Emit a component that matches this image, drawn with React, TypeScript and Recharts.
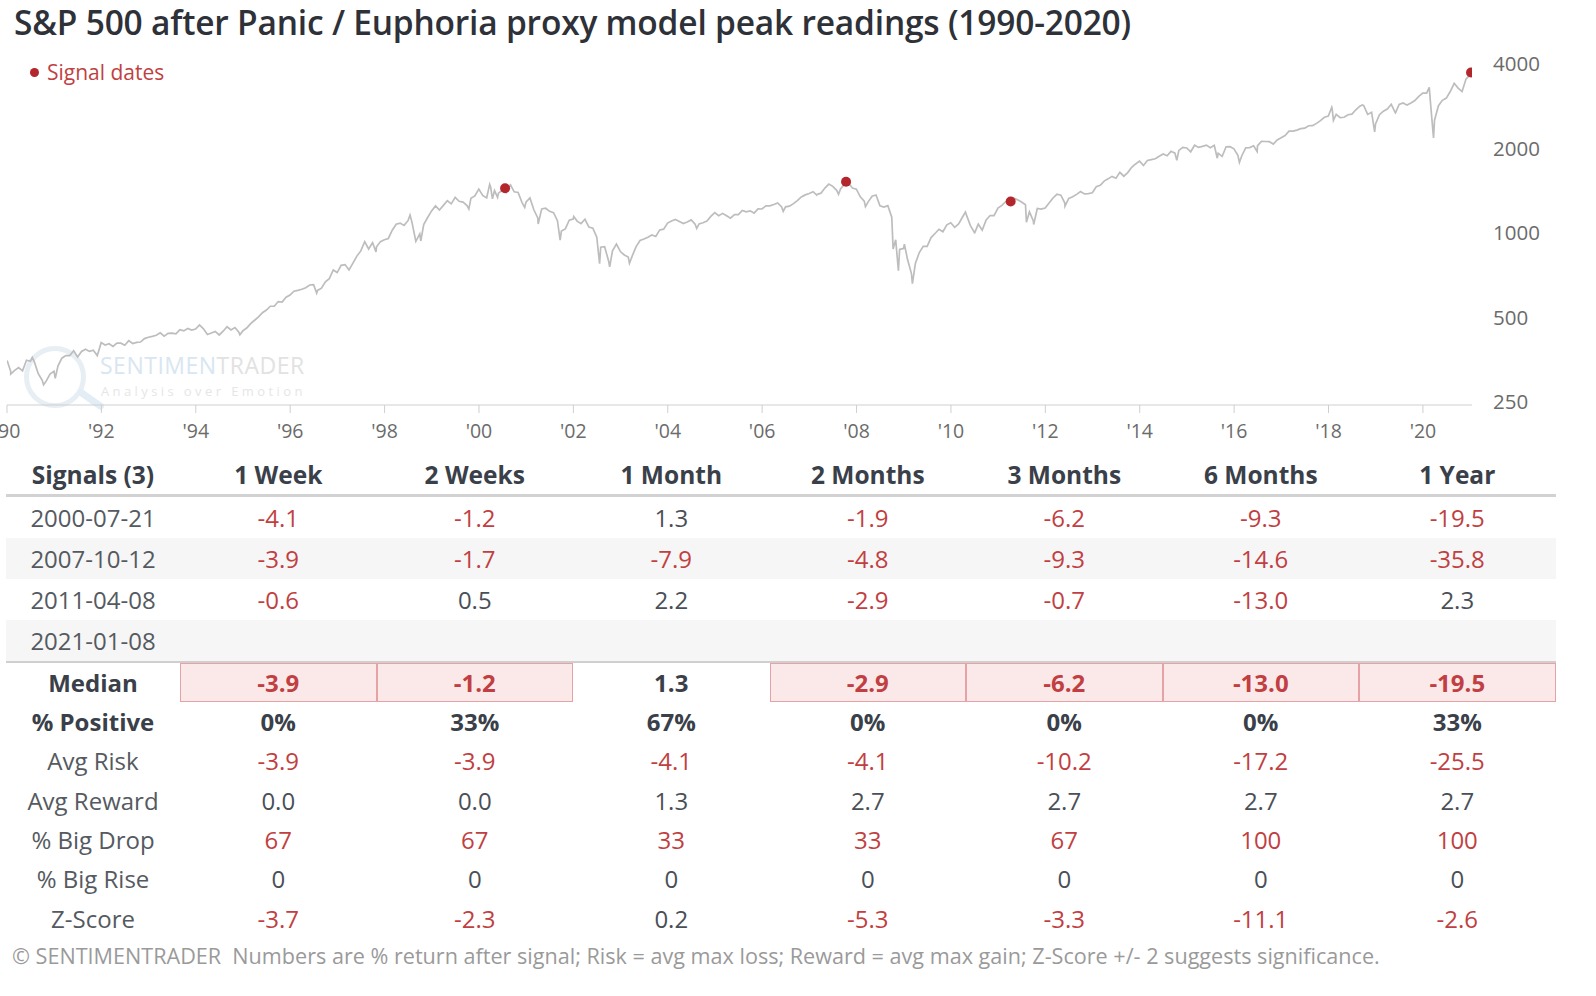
import * as React from "react";
import { ComposedChart, Line, Scatter, XAxis, YAxis, Legend } from "recharts";

// S&P 500 month-end closes, Jan 1990 -> Dec 2020 (12 per year)
const sp500Monthly: number[] = [
  329, 332, 340, 331, 361, 358, 356, 323, 306, 304, 322, 330,
  344, 367, 375, 375, 390, 371, 388, 395, 388, 392, 375, 417,
  409, 413, 404, 415, 415, 408, 424, 414, 418, 419, 431, 436,
  439, 443, 452, 440, 450, 451, 448, 464, 459, 468, 462, 466,
  482, 467, 446, 451, 457, 444, 458, 475, 463, 472, 454, 459,
  470, 487, 501, 515, 533, 545, 562, 562, 584, 582, 605, 616,
  636, 640, 646, 654, 669, 671, 640, 652, 687, 705, 757, 741,
  786, 791, 757, 801, 848, 885, 954, 899, 947, 915, 955, 970,
  980, 1049, 1102, 1112, 1091, 1134, 1121, 957, 1017, 1099, 1164, 1229,
  1280, 1238, 1286, 1335, 1302, 1373, 1329, 1320, 1283, 1363, 1389, 1469,
  1394, 1366, 1499, 1452, 1421, 1455, 1431, 1518, 1437, 1429, 1315, 1320,
  1366, 1240, 1160, 1249, 1256, 1224, 1211, 1134, 1041, 1060, 1139, 1148,
  1130, 1107, 1147, 1076, 1067, 990, 912, 916, 815, 886, 936, 880,
  856, 841, 848, 917, 964, 975, 990, 1008, 996, 1051, 1058, 1112,
  1131, 1145, 1126, 1107, 1121, 1141, 1102, 1104, 1115, 1130, 1174, 1212,
  1181, 1204, 1181, 1157, 1192, 1191, 1234, 1220, 1229, 1207, 1249, 1248,
  1280, 1281, 1295, 1311, 1270, 1270, 1277, 1304, 1336, 1378, 1401, 1418,
  1438, 1407, 1421, 1482, 1531, 1503, 1455, 1474, 1527, 1549, 1481, 1468,
  1379, 1331, 1323, 1386, 1400, 1280, 1267, 1283, 1166, 969, 896, 903,
  826, 735, 798, 873, 919, 919, 987, 1021, 1057, 1036, 1096, 1115,
  1074, 1104, 1169, 1187, 1089, 1031, 1102, 1049, 1141, 1183, 1181, 1258,
  1286, 1327, 1326, 1364, 1345, 1321, 1292, 1219, 1131, 1253, 1247, 1258,
  1312, 1366, 1408, 1398, 1310, 1362, 1379, 1407, 1441, 1412, 1416, 1426,
  1498, 1515, 1569, 1598, 1631, 1606, 1686, 1633, 1682, 1757, 1806, 1848,
  1783, 1859, 1872, 1884, 1924, 1960, 1931, 2003, 1972, 2018, 2068, 2059,
  1995, 2105, 2068, 2086, 2107, 2063, 2104, 1972, 1920, 2079, 2080, 2044,
  1940, 1932, 2060, 2065, 2097, 2099, 2174, 2171, 2168, 2126, 2199, 2239,
  2279, 2364, 2363, 2384, 2412, 2423, 2470, 2472, 2519, 2575, 2648, 2674,
  2824, 2714, 2641, 2648, 2705, 2718, 2816, 2902, 2914, 2712, 2760, 2507,
  2704, 2784, 2834, 2946, 2752, 2942, 2980, 2926, 2977, 3038, 3141, 3231,
  3226, 2954, 2585, 2912, 3044, 3100, 3271, 3500, 3363, 3270, 3622, 3756,
];

// intra-month swing highs / lows that the month-end closes miss
const sp500Swings: [string, number][] = [
  ["1990-01-02", 360], ["1990-01-30", 322], ["1990-07-16", 369], ["1990-10-11", 295],
  ["1991-01-09", 311], ["1994-12-08", 445], ["1996-07-24", 626], ["1997-10-27", 877],
  ["1998-07-17", 1187], ["1998-10-08", 960], ["1999-10-15", 1247], ["2000-03-24", 1527],
  ["2000-04-14", 1357], ["2000-05-24", 1373], ["2000-07-21", 1480], ["2000-09-01", 1521],
  ["2000-12-20", 1264], ["2001-04-04", 1103], ["2001-09-21", 966], ["2002-01-04", 1173],
  ["2002-07-23", 797], ["2002-10-09", 777], ["2003-03-11", 800], ["2004-08-12", 1064],
  ["2006-06-13", 1224], ["2007-02-27", 1399], ["2007-08-15", 1407], ["2007-10-09", 1565],
  ["2008-03-10", 1273], ["2008-10-10", 899], ["2008-11-20", 752], ["2009-01-06", 935],
  ["2009-03-09", 677], ["2010-04-23", 1217], ["2010-07-02", 1022], ["2011-04-29", 1364],
  ["2011-08-08", 1119], ["2011-10-03", 1099], ["2012-06-01", 1278], ["2014-10-15", 1862],
  ["2015-08-24", 1893], ["2016-02-11", 1829], ["2016-06-27", 2001], ["2018-01-26", 2873],
  ["2018-02-08", 2581], ["2018-09-20", 2931], ["2018-12-24", 2351], ["2019-06-03", 2744],
  ["2020-02-19", 3386], ["2020-03-23", 2237], ["2021-01-08", 3825],
];

const signalDates = ["2000-07-21", "2007-10-12", "2011-04-08", "2021-01-08"];
const signalCloses = [1480, 1561, 1328, 3825];

const yTicks = [250, 500, 1000, 2000, 4000];
const xTickYears = [1990, 1992, 1994, 1996, 1998, 2000, 2002, 2004, 2006, 2008, 2010, 2012, 2014, 2016, 2018, 2020];

// table
const horizons = ["1 Week", "2 Weeks", "1 Month", "2 Months", "3 Months", "6 Months", "1 Year"];
const signalReturns: (number[] | null)[] = [
  [-4.1, -1.2, 1.3, -1.9, -6.2, -9.3, -19.5],
  [-3.9, -1.7, -7.9, -4.8, -9.3, -14.6, -35.8],
  [-0.6, 0.5, 2.2, -2.9, -0.7, -13.0, 2.3],
  null,
];
const medianReturns = [-3.9, -1.2, 1.3, -2.9, -6.2, -13.0, -19.5];
const pctPositive = [0, 33, 67, 0, 0, 0, 33];
const avgRisk = [-3.9, -3.9, -4.1, -4.1, -10.2, -17.2, -25.5];
const avgReward = [0.0, 0.0, 1.3, 2.7, 2.7, 2.7, 2.7];
const pctBigDrop = [67, 67, 33, 33, 67, 100, 100];
const pctBigRise = [0, 0, 0, 0, 0, 0, 0];
const zScores = [-3.7, -2.3, 0.2, -5.3, -3.3, -11.1, -2.6];

const FONT = '"Open Sans", "Noto Sans", sans-serif';
const RED = "#c13f42";
const DARK = "#4a4f57";
const HEAD = "#3a4049";

function toYear(d: string) {
  const [y, m, day] = d.split("-").map(Number);
  const start = Date.UTC(y, 0, 1);
  const cur = Date.UTC(y, m - 1, day);
  return y + (cur - start) / (365.25 * 86400000);
}

function buildSeries() {
  const rows: { t: number; close: number }[] = sp500Monthly.map((v, i) => ({
    t: 1990 + Math.floor(i / 12) + ((i % 12) + 1) / 12 - 0.004,
    close: v,
  }));
  for (const [d, v] of sp500Swings) rows.push({ t: toYear(d), close: v });
  rows.sort((a, b) => a.t - b.t);
  return rows;
}

const seriesData = buildSeries();
const signalData = signalDates.map((d, i) => ({ t: toYear(d), close: signalCloses[i] }));

const COL0 = 174;
const COLW = 196.5;

function Cell({ children, width, color, bold, box }: any) {
  return (
    <div
      style={{
        width,
        height: "100%",
        position: "relative",
        display: "flex",
        alignItems: "center",
        justifyContent: "center",
        color,
        fontWeight: bold ? 700 : 400,
        boxSizing: "border-box",
      }}
    >
      {box && (
        <div
          style={{
            position: "absolute",
            inset: 0,
            background: "#fbe9ea",
            border: "1px solid #e5a3a6",
          }}
        />
      )}
      <span style={{ position: "relative" }}>{children}</span>
    </div>
  );
}

function Row({ label, values, height, bg, bold, labelColor, borderTop, boxNeg }: any) {
  return (
    <div
      style={{
        display: "flex",
        height,
        background: bg,
        borderTop,
        boxSizing: "border-box",
      }}
    >
      <Cell width={COL0} color={labelColor} bold={bold}>
        {label}
      </Cell>
      {values.map((v: any, i: number) => (
        <Cell
          key={i}
          width={COLW}
          color={v.red ? RED : bold ? HEAD : DARK}
          bold={bold}
          box={boxNeg && v.red}
        >
          {v.text}
        </Cell>
      ))}
    </div>
  );
}

const fmt1 = (arr: number[]) => arr.map((v) => ({ text: v.toFixed(1), red: v < 0 }));

function SignalLegend() {
  return (
    <div style={{ display: "flex", alignItems: "center", color: RED, fontSize: 21, fontFamily: FONT, whiteSpace: "nowrap" }}>
      <span style={{ display: "inline-block", width: 9, height: 9, borderRadius: 5, background: "#b3262b", marginRight: 8 }} />
      Signal dates
    </div>
  );
}

export default function App() {
  return (
    <div style={{ position: "relative", width: 1596, height: 996, fontFamily: FONT, background: "#fff", overflow: "hidden" }}>
      <style>{"body{margin:0}"}</style>
      <div style={{ position: "absolute", left: 14, top: 0, fontSize: 33.5, lineHeight: "44px", fontWeight: 600, color: "#2e3138", letterSpacing: -0.2, whiteSpace: "nowrap" }}>
        S&amp;P 500 after Panic / Euphoria proxy model peak readings (1990-2020)
      </div>

      {/* watermark */}
      <div style={{ position: "absolute", left: 24, top: 346, width: 62, height: 62, borderRadius: 31, border: "5px solid #e7eef4", boxSizing: "border-box" }} />
      <div style={{ position: "absolute", left: 76, top: 396, width: 30, height: 7, borderRadius: 3, background: "#e3edf5", transform: "rotate(35deg)" }} />
      <div style={{ position: "absolute", left: 100, top: 350, fontSize: 23, letterSpacing: 0.5, lineHeight: "30px", whiteSpace: "nowrap" }}>
        <span style={{ color: "#d8e6f1" }}>SENTIMEN</span>
        <span style={{ color: "#e2e2e2" }}>TRADER</span>
      </div>
      <div style={{ position: "absolute", left: 101, top: 382, fontSize: 13, letterSpacing: 3.4, color: "#e6e6e6", lineHeight: "18px", whiteSpace: "nowrap" }}>
        Analysis over Emotion
      </div>

      <div style={{ position: "absolute", left: 0, top: 0 }}>
        <ComposedChart width={1596} height={450} data={seriesData} margin={{ top: 67, right: 0, left: 7, bottom: 0 }}>
          <XAxis
            dataKey="t"
            type="number"
            domain={[1990, 2021.04]}
            allowDataOverflow
            ticks={xTickYears}
            interval={0}
            tickFormatter={(v: number) => "'" + String(v).slice(2)}
            height={45}
            tickSize={8}
            tickMargin={11}
            stroke="#cfcfcf"
            tick={{ fontSize: 19.5, fill: "#6b6b6b", fontFamily: FONT }}
          />
          <YAxis
            dataKey="close"
            type="number"
            scale="log"
            orientation="right"
            domain={[250, 4000]}
            allowDataOverflow
            ticks={yTicks}
            axisLine={false}
            tickLine={false}
            tickMargin={15}
            width={124}
            tick={{ fontSize: 20.5, fill: "#6b6b6b", fontFamily: FONT, textAnchor: "start", dy: -3 }}
          />
          <Legend
            verticalAlign="middle"
            align="center"
            content={() => <SignalLegend />}
            wrapperStyle={{ position: "absolute", left: 30, top: 58, width: "auto", height: "auto" }}
          />
          <Line
            dataKey="close"
            type="linear"
            stroke="#bdbdbd"
            strokeWidth={1.7}
            dot={false}
            isAnimationActive={false}
          />
          <Scatter
            data={signalData}
            dataKey="close"
            isAnimationActive={false}
            shape={(p: any) => <circle cx={p.cx} cy={p.cy} r={5} fill="#b3262b" />}
          />
        </ComposedChart>
      </div>

      {/* statistics table */}
      <div style={{ position: "absolute", left: 6, top: 455, width: COL0 + COLW * 7, fontSize: 24 }}>
        <div style={{ display: "flex", height: 42, borderBottom: "3px solid #d2d2d2", boxSizing: "border-box", fontSize: 24.5 }}>
          <Cell width={COL0} color={HEAD} bold>Signals (3)</Cell>
          {horizons.map((h) => (
            <Cell key={h} width={COLW} color={HEAD} bold>{h}</Cell>
          ))}
        </div>
        {signalDates.map((d, r) => (
          <Row
            key={d}
            label={d}
            labelColor="#555a61"
            height={41}
            bg={r % 2 === 1 ? "#f6f6f6" : "#fff"}
            values={signalReturns[r] ? fmt1(signalReturns[r] as number[]) : horizons.map(() => ({ text: "", red: false }))}
          />
        ))}
        <Row label="Median" labelColor={HEAD} bold boxNeg height={41} borderTop="2px solid #cfcfcf" values={fmt1(medianReturns)} />
        <Row label="% Positive" labelColor={HEAD} bold height={39.3} values={pctPositive.map((v) => ({ text: v + "%", red: false }))} />
        <Row label="Avg Risk" labelColor="#555a61" height={39.3} values={fmt1(avgRisk)} />
        <Row label="Avg Reward" labelColor="#555a61" height={39.3} values={fmt1(avgReward)} />
        <Row label="% Big Drop" labelColor="#555a61" height={39.3} values={pctBigDrop.map((v) => ({ text: String(v), red: v > 0 }))} />
        <Row label="% Big Rise" labelColor="#555a61" height={39.3} values={pctBigRise.map((v) => ({ text: String(v), red: false }))} />
        <Row label="Z-Score" labelColor="#555a61" height={39.3} values={fmt1(zScores)} />
      </div>

      <div style={{ position: "absolute", left: 12, top: 942, fontSize: 21.6, color: "#9a9a9a", lineHeight: "28px", whiteSpace: "pre" }}>
        {"© SENTIMENTRADER  Numbers are % return after signal; Risk = avg max loss; Reward = avg max gain; Z-Score +/- 2 suggests significance."}
      </div>
    </div>
  );
}
